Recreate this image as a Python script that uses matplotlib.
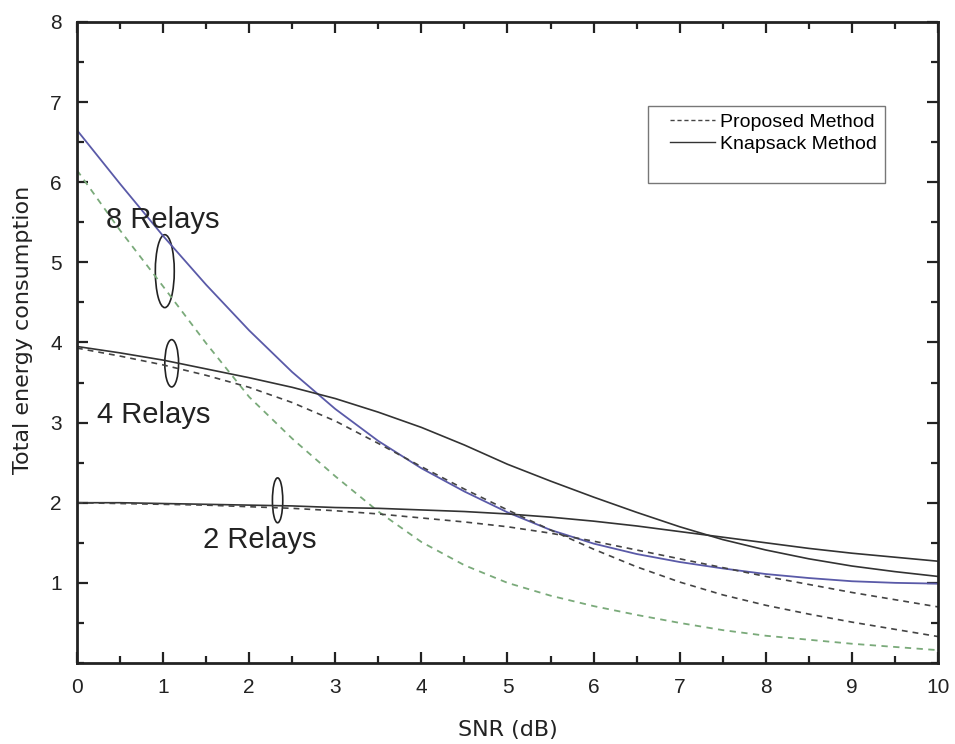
import numpy as np
import matplotlib
matplotlib.use("Agg")
import matplotlib.pyplot as plt
from matplotlib.patches import Ellipse, Rectangle
from matplotlib.lines import Line2D
from matplotlib.ticker import MultipleLocator

plt.rcParams["font.family"] = ["Liberation Sans", "DejaVu Sans"]

# SNR grid (dB)
snr = [0, 0.5, 1, 1.5, 2, 2.5, 3, 3.5, 4, 4.5, 5,
       5.5, 6, 6.5, 7, 7.5, 8, 8.5, 9, 9.5, 10]

# total energy consumption per scheme / relay count
knap_8 = [6.65, 5.98, 5.33, 4.72, 4.15, 3.63, 3.17, 2.77, 2.43, 2.14, 1.88,
          1.66, 1.49, 1.36, 1.26, 1.18, 1.11, 1.06, 1.02, 1.00, 0.99]
prop_8 = [6.15, 5.40, 4.70, 3.99, 3.32, 2.80, 2.33, 1.89, 1.51, 1.22, 1.00,
          0.84, 0.71, 0.60, 0.50, 0.41, 0.34, 0.29, 0.24, 0.20, 0.16]
knap_4 = [3.95, 3.87, 3.78, 3.67, 3.56, 3.44, 3.30, 3.13, 2.94, 2.72, 2.48,
          2.27, 2.07, 1.88, 1.70, 1.54, 1.41, 1.30, 1.21, 1.14, 1.08]
prop_4 = [3.93, 3.83, 3.72, 3.59, 3.44, 3.25, 3.02, 2.74, 2.45, 2.17, 1.91,
          1.66, 1.42, 1.20, 1.01, 0.85, 0.72, 0.61, 0.51, 0.42, 0.33]
knap_2 = [2.00, 2.00, 1.99, 1.98, 1.97, 1.96, 1.94, 1.93, 1.91, 1.89, 1.86,
          1.82, 1.77, 1.71, 1.64, 1.57, 1.50, 1.43, 1.37, 1.32, 1.27]
prop_2 = [2.00, 1.99, 1.98, 1.97, 1.95, 1.93, 1.90, 1.86, 1.81, 1.76, 1.70,
          1.62, 1.52, 1.41, 1.30, 1.19, 1.08, 0.98, 0.88, 0.79, 0.70]

dash = (0, (3.5, 3))

fig = plt.figure(figsize=(9.55, 7.44), dpi=100)
ax = fig.add_axes([0.0806, 0.1089, 0.9016, 0.8616])

ax.plot(snr, knap_8, color="#5a5aa8", lw=1.3)
ax.plot(snr, prop_8, color="#7aaa7a", lw=1.3, ls=dash)
ax.plot(snr, knap_4, color="#333333", lw=1.2)
ax.plot(snr, prop_4, color="#444444", lw=1.2, ls=dash)
ax.plot(snr, knap_2, color="#333333", lw=1.2)
ax.plot(snr, prop_2, color="#444444", lw=1.2, ls=dash)

# relay-group markers
for (cx, cy, w, h) in [(1.02, 4.89, 0.22, 0.91), (1.10, 3.74, 0.16, 0.59), (2.33, 2.03, 0.12, 0.56)]:
    ax.add_patch(Ellipse((cx, cy), w, h, fill=False, ec="#222222", lw=1.2))

ax.text(0.34, 5.53, "8 Relays", fontsize=21, va="center", ha="left", color="#222222")
ax.text(0.23, 3.10, "4 Relays", fontsize=21, va="center", ha="left", color="#222222")
ax.text(1.46, 1.54, "2 Relays", fontsize=21, va="center", ha="left", color="#222222")

ax.set_xlim(0, 10)
ax.set_ylim(0, 8)
ax.xaxis.set_major_locator(MultipleLocator(1))
ax.xaxis.set_minor_locator(MultipleLocator(0.5))
ax.yaxis.set_major_locator(MultipleLocator(1))
ax.yaxis.set_minor_locator(MultipleLocator(0.5))
ax.set_yticks([1, 2, 3, 4, 5, 6, 7, 8])
ax.tick_params(which="both", direction="in", top=True, right=True, width=1.6, colors="#222222")
ax.tick_params(which="major", length=8, pad=11, labelsize=15)
ax.tick_params(which="minor", length=5)
for sp in ax.spines.values():
    sp.set_linewidth(2)
    sp.set_color("#222222")

ax.set_xlabel("SNR (dB)", fontsize=16, family="DejaVu Sans", color="#222222", va="center")
ax.set_ylabel("Total energy consumption", fontsize=16, family="DejaVu Sans", color="#222222", va="center")
ax.xaxis.set_label_coords(0.5, -0.105)
ax.yaxis.set_label_coords(-0.063, 0.52)

# legend box drawn separately so it can keep the extra room underneath
ax.add_patch(Rectangle((0.663, 0.749), 0.275, 0.12, transform=ax.transAxes,
                       fill=True, fc="white", ec="#777777", lw=1.0, zorder=4))
handles = [Line2D([], [], color="#444444", lw=1.0, ls=(0, (3, 2))),
           Line2D([], [], color="#333333", lw=1.0)]
leg = ax.legend(handles, ["Proposed Method", "Knapsack Method"],
                loc="upper left", bbox_to_anchor=(0.689, 0.858), fontsize=14,
                frameon=False, handlelength=2.3, handletextpad=0.25,
                labelspacing=0.24, borderpad=0, borderaxespad=0)
leg.set_zorder(5)

fig.savefig("out.png", dpi=100)
